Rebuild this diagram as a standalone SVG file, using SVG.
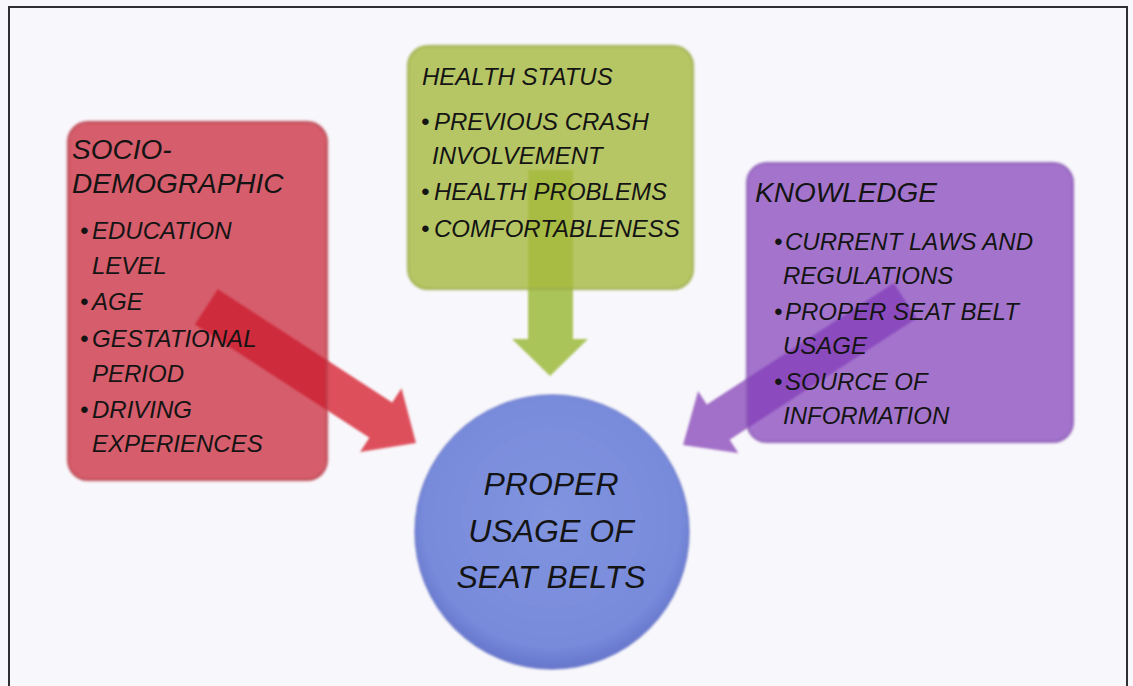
<svg xmlns="http://www.w3.org/2000/svg" width="1133" height="686" viewBox="0 0 1133 686">
  <defs>
    <style>
      .lbl { font-family: "Liberation Sans", Arial, sans-serif; font-style: italic; fill: #141414; }
      .title { font-size: 28px; }
      .item { font-size: 24px; }
      .center { font-size: 32px; text-anchor: middle; }
      .box { stroke-width: 3; }
    </style>
    <filter id="soft" x="-5%" y="-5%" width="110%" height="110%">
      <feGaussianBlur stdDeviation="1.1"/>
    </filter>
    <radialGradient id="blueFill" cx="50%" cy="45%" r="55%">
      <stop offset="0" stop-color="#8194e0"/>
      <stop offset="0.85" stop-color="#788bdb"/>
      <stop offset="1" stop-color="#6676cc"/>
    </radialGradient>
  </defs>

  <!-- page background and frame -->
  <rect x="0" y="0" width="1133" height="686" fill="#f8f7fb"/>
  <rect x="9" y="7" width="1118" height="700" fill="none" stroke="#2e2e33" stroke-width="2"/>

  <!-- arrows converging on the central circle -->
  <g id="connectors">
    <!-- socio-demographic -> center -->
    <polygon id="arrow-red" fill="#de505c" filter="url(#soft)"
      transform="translate(416,443) rotate(33)"
      points="0,0 -42,-38 -42,-21 -250,-21 -250,21 -42,21 -42,38"/>
    <!-- health status -> center -->
    <polygon id="arrow-green" fill="#aac45a" filter="url(#soft)"
      points="550,376 588,339 573,339 573,170 528,170 528,339 512,339"/>
    <!-- knowledge -> center -->
    <polygon id="arrow-purple" fill="#a270c8" filter="url(#soft)"
      transform="translate(683,445) rotate(-33)"
      points="0,0 42,-37 42,-21 265,-21 265,21 42,21 42,37"/>
  </g>

  <g id="node-socio">
    <rect class="box" x="68" y="122" width="259" height="358" rx="20"
      fill="rgb(199,31,45)" fill-opacity="0.7" stroke="#b8404c" stroke-opacity="0.6" filter="url(#soft)"/>
    <text class="lbl title" x="72" y="159">SOCIO-</text>
    <text class="lbl title" x="72" y="193">DEMOGRAPHIC</text>
    <text class="lbl item" y="239"><tspan x="80">•</tspan><tspan x="92">EDUCATION</tspan></text>
    <text class="lbl item" x="92" y="274">LEVEL</text>
    <text class="lbl item" y="310"><tspan x="80">•</tspan><tspan x="92">AGE</tspan></text>
    <text class="lbl item" y="347"><tspan x="80">•</tspan><tspan x="92">GESTATIONAL</tspan></text>
    <text class="lbl item" x="92" y="382">PERIOD</text>
    <text class="lbl item" y="418"><tspan x="80">•</tspan><tspan x="92">DRIVING</tspan></text>
    <text class="lbl item" x="92" y="452">EXPERIENCES</text>
  </g>

  <g id="node-health">
    <rect class="box" x="408" y="46" width="285" height="243" rx="20"
      fill="rgb(167,186,61)" fill-opacity="0.8" stroke="#9aab4a" stroke-opacity="0.6" filter="url(#soft)"/>
    <text class="lbl item" x="422" y="85">HEALTH STATUS</text>
    <text class="lbl item" y="130"><tspan x="421">•</tspan><tspan x="434">PREVIOUS CRASH</tspan></text>
    <text class="lbl item" x="432" y="164">INVOLVEMENT</text>
    <text class="lbl item" y="200"><tspan x="421">•</tspan><tspan x="434">HEALTH PROBLEMS</tspan></text>
    <text class="lbl item" y="237"><tspan x="421">•</tspan><tspan x="434">COMFORTABLENESS</tspan></text>
  </g>

  <g id="node-knowledge">
    <rect class="box" x="747" y="163" width="326" height="279" rx="20"
      fill="rgb(128,59,185)" fill-opacity="0.7" stroke="#8a5cb4" stroke-opacity="0.6" filter="url(#soft)"/>
    <text class="lbl title" x="755" y="202">KNOWLEDGE</text>
    <text class="lbl item" y="250"><tspan x="774">•</tspan><tspan x="785">CURRENT LAWS AND</tspan></text>
    <text class="lbl item" x="783" y="284">REGULATIONS</text>
    <text class="lbl item" y="320"><tspan x="774">•</tspan><tspan x="785">PROPER SEAT BELT</tspan></text>
    <text class="lbl item" x="783" y="354">USAGE</text>
    <text class="lbl item" y="390"><tspan x="774">•</tspan><tspan x="785">SOURCE OF</tspan></text>
    <text class="lbl item" x="783" y="424">INFORMATION</text>
  </g>

  <g id="node-center">
    <circle cx="552" cy="532" r="137" fill="url(#blueFill)" stroke="#6a78c8" stroke-width="2" stroke-opacity="0.6" filter="url(#soft)"/>
    <text class="lbl center" x="551" y="495">PROPER</text>
    <text class="lbl center" x="551" y="542">USAGE OF</text>
    <text class="lbl center" x="551" y="588">SEAT BELTS</text>
  </g>
</svg>
